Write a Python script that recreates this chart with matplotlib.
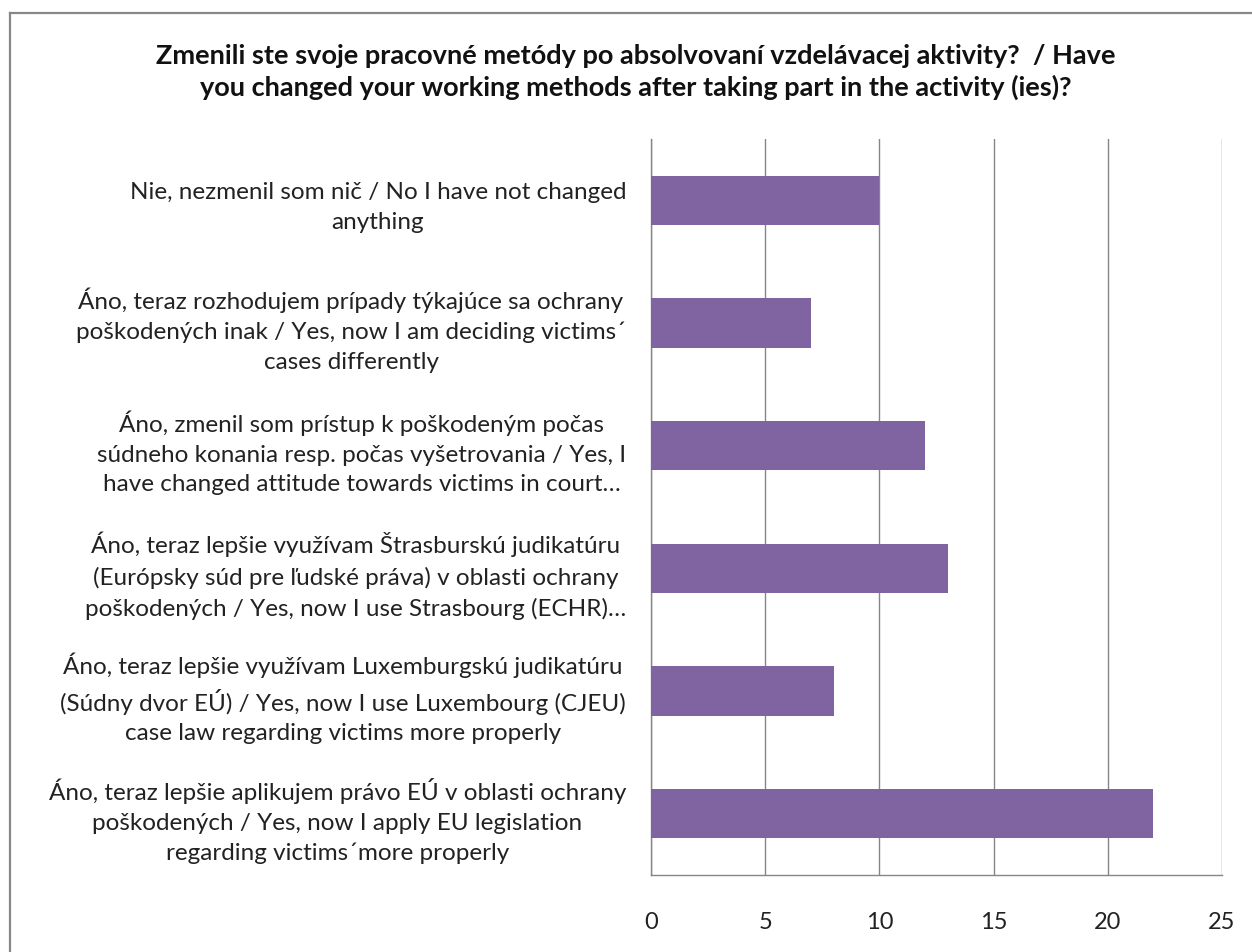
import matplotlib.pyplot as plt
from matplotlib.lines import Line2D

labels = [
    "Nie, nezmenil som nič / No I have not changed\nanything",
    "Áno, teraz rozhodujem prípady týkajúce sa ochrany\npoškodených inak / Yes, now I am deciding victims´\ncases differently",
    "Áno, zmenil som prístup k poškodeným počas\nsúdneho konania resp. počas vyšetrovania / Yes, I\nhave changed attitude towards victims in court…",
    "Áno, teraz lepšie využívam Štrasburskú judikatúru\n(Európsky súd pre ľudské práva) v oblasti ochrany\npoškodených / Yes, now I use Strasbourg (ECHR)…",
    "Áno, teraz lepšie využívam Luxemburgskú judikatúru\n(Súdny dvor EÚ) / Yes, now I use Luxembourg (CJEU)\ncase law regarding victims more properly",
    "Áno, teraz lepšie aplikujem právo EÚ v oblasti ochrany\npoškodených / Yes, now I apply EU legislation\nregarding victims´more properly",
]
values = [10, 7, 12, 13, 8, 22]
xticks = [0, 5, 10, 15, 20, 25]

title = ("Zmenili ste svoje pracovné metódy po absolvovaní vzdelávacej aktivity?  / Have\n"
         "you changed your working methods after taking part in the activity (ies)?")

plt.rcParams['font.family'] = ['Lato', 'DejaVu Sans']

fig = plt.figure(figsize=(12.52, 9.53), dpi=100)
ax = fig.add_axes([651 / 1252, 1 - 876 / 953, 571 / 1252, 736 / 953])

grid_col = "#868686"
ypos = list(range(len(values)))
ax.barh(ypos, values, height=0.4, color="#8064A2", zorder=3)
ax.set_ylim(len(values) - 0.5, -0.5)
ax.set_xlim(0, 25)
ax.set_xticks(xticks)
ax.set_yticks(ypos)
ax.set_yticklabels(labels, fontsize=17.5, color="#222222",
                   multialignment="center", linespacing=1.5)
ax.tick_params(axis="y", length=0, pad=18)
ax.tick_params(axis="x", length=0, pad=26, labelsize=17, labelcolor="#222222")
ax.xaxis.grid(True, color=grid_col, linewidth=1, zorder=0)

for side in ["top", "right"]:
    ax.spines[side].set_visible(False)
for side in ["left", "bottom"]:
    ax.spines[side].set_color(grid_col)
    ax.spines[side].set_linewidth(1)

fig.text(636 / 1252, 1 - 72 / 953, title, ha="center", va="center",
         fontsize=19.5, fontweight="bold", linespacing=1.35, color="#111111")

# outer chart frame
fig.add_artist(Line2D([9.5 / 1252, 9.5 / 1252], [0, 1 - 14 / 953], color="#888888", linewidth=1.6))
fig.add_artist(Line2D([9.5 / 1252, 1], [1 - 14 / 953, 1 - 14 / 953], color="#888888", linewidth=1.6))

fig.savefig("out.png", dpi=100)
